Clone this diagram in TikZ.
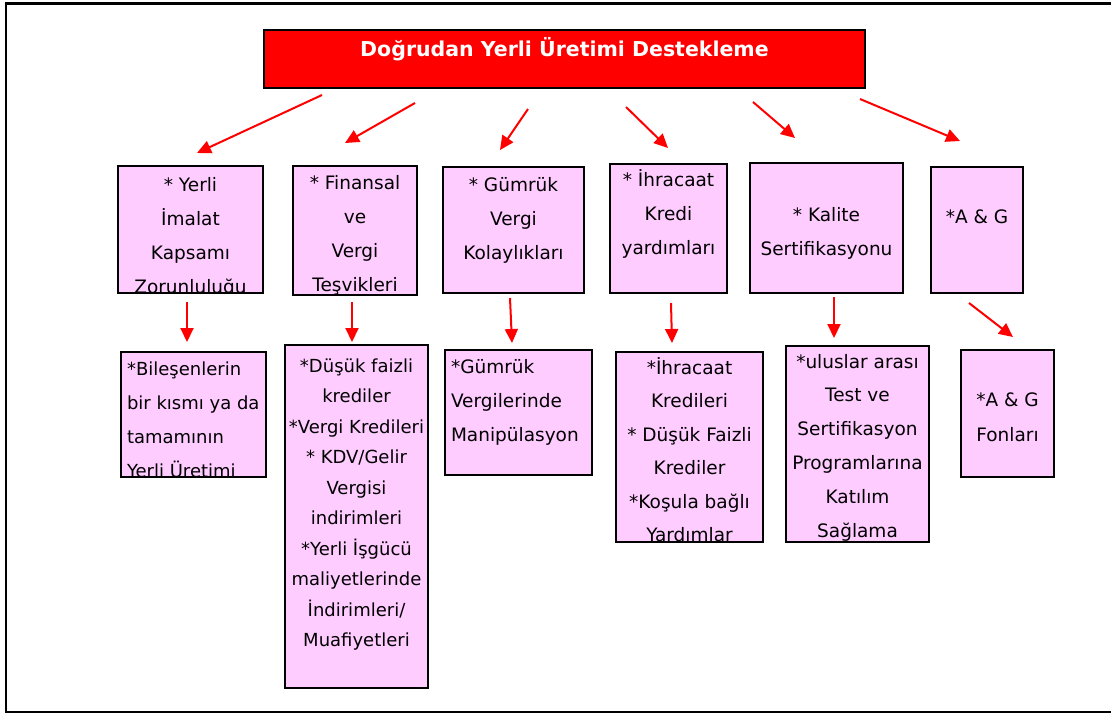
\documentclass[tikz,border=0pt]{standalone}
\usepackage{fontspec}
\setmainfont{DejaVu Sans}
\usetikzlibrary{arrows.meta}

% Changing color 255 0 0 / 255 204 255
\definecolor{r255g0b0}{rgb}{1.000000,0.000000,0.000000}
\definecolor{r255g204b255}{rgb}{1.000000,0.800000,1.000000}
\newcommand{\ilksatir}{\rule{0pt}{17pt}}

\begin{document}
\begin{tikzpicture}[x=1pt,y=-1pt,
  kutu/.style={draw=black, fill=r255g204b255, line width=2pt, inner sep=0pt},
  yazi/.style={draw=none, fill=none, text=black, inner sep=0pt, minimum width=0pt, minimum height=0pt,
    align=center, font=\fontsize{18.5}{34}\selectfont},
  okcizgi/.style={draw=r255g0b0, line width=2pt, -{Triangle[length=14pt,width=13pt]}}]
\useasboundingbox (0,0) rectangle (1111,713);

% Drawing frame
\draw [line width=2.5pt] (1111,3.5) -- (6,3.5) -- (6,712) -- (1111,712);

% Drawing title box
\node [draw=black, fill=r255g0b0, line width=2pt, inner sep=0pt, minimum width=601pt, minimum height=58pt,
  path picture={\node [text=white, minimum width=0pt, minimum height=0pt, font=\bfseries\fontsize{20.5}{24}\selectfont, inner sep=0pt, anchor=base]
    at ([yshift=-26pt]path picture bounding box.north) {Doğrudan Yerli Üretimi Destekleme};}]
  (baslik) at (564.5,59) {};

% Drawing upper boxes
\node [kutu, minimum width=145pt, minimum height=127pt,
  path picture={\node [yazi, anchor=north] at ([yshift=-7pt]path picture bounding box.north)
    {\ilksatir* Yerli\\İmalat\\Kapsamı\\Zorunluluğu};}]
  (imalat) at (190.5,229.5) {};
\node [kutu, minimum width=124pt, minimum height=129pt,
  path picture={\node [yazi, anchor=north] at ([yshift=-5pt]path picture bounding box.north)
    {\ilksatir* Finansal\\ve\\Vergi\\Teşvikleri};}]
  (finansal) at (355,230.5) {};
\node [kutu, minimum width=141pt, minimum height=126pt,
  path picture={\node [yazi, anchor=north] at ([yshift=-6pt]path picture bounding box.north)
    {\ilksatir* Gümrük\\Vergi\\Kolaylıkları};}]
  (gumruk) at (513.5,230) {};
\node [kutu, minimum width=117pt, minimum height=129pt,
  path picture={\node [yazi, anchor=north] at ([yshift=-4pt]path picture bounding box.north)
    {\ilksatir* İhracaat\\Kredi\\yardımları};}]
  (ihracat) at (668.5,228.5) {};
\node [kutu, minimum width=153pt, minimum height=130pt,
  path picture={\node [yazi, anchor=north] at ([yshift=-40pt]path picture bounding box.north)
    {\ilksatir* Kalite\\Sertifikasyonu};}]
  (kalite) at (826.5,228) {};
\node [kutu, minimum width=92pt, minimum height=126pt,
  path picture={\node [yazi, anchor=north] at ([yshift=-38pt]path picture bounding box.north)
    {\ilksatir*A \& G};}]
  (arge) at (977,230) {};

% Drawing lower boxes
\node [kutu, minimum width=145pt, minimum height=125pt,
  path picture={\node [yazi, font=\fontsize{18}{34}\selectfont, align=left, anchor=north west] at ([xshift=5pt,yshift=-5pt]path picture bounding box.north west)
    {\ilksatir*Bileşenlerin\\bir kısmı ya da\\tamamının\\Yerli Üretimi};}]
  (bilesen) at (193.5,414.5) {};
\node [kutu, minimum width=143pt, minimum height=343pt,
  path picture={\node [yazi, font=\fontsize{18}{30.5}\selectfont, anchor=north] at ([yshift=-9pt]path picture bounding box.north)
    {\ilksatir*Düşük faizli\\krediler\\*Vergi Kredileri\\* KDV/Gelir\\Vergisi\\indirimleri\\*Yerli İşgücü\\maliyetlerinde\\İndirimleri/\\Muafiyetleri};}]
  (faiz) at (356.5,516.5) {};
\node [kutu, minimum width=147pt, minimum height=125pt,
  path picture={\node [yazi, align=left, anchor=north west] at ([xshift=5pt,yshift=-5pt]path picture bounding box.north west)
    {\ilksatir*Gümrük\\Vergilerinde\\Manipülasyon};}]
  (manipulasyon) at (518.5,412.5) {};
\node [kutu, minimum width=147pt, minimum height=190pt,
  path picture={\node [yazi, font=\fontsize{18.5}{33.5}\selectfont, anchor=north] at ([yshift=-4pt]path picture bounding box.north)
    {\ilksatir*İhracaat\\Kredileri\\* Düşük Faizli\\Krediler\\*Koşula bağlı\\Yardımlar};}]
  (ihracatkredi) at (689.5,447) {};
\node [kutu, minimum width=143pt, minimum height=196pt,
  path picture={\node [yazi, font=\fontsize{18.5}{33.8}\selectfont, anchor=north] at ([yshift=-4pt]path picture bounding box.north)
    {\ilksatir*uluslar arası\\Test ve\\Sertifikasyon\\Programlarına\\Katılım\\Sağlama};}]
  (test) at (857.5,444) {};
\node [kutu, minimum width=93pt, minimum height=127pt,
  path picture={\node [yazi, font=\fontsize{18.5}{35}\selectfont, anchor=north] at ([yshift=-38pt]path picture bounding box.north)
    {\ilksatir*A \& G\\Fonları};}]
  (argefon) at (1007.5,413.5) {};

% Arrow ends
\coordinate (o1b) at (322,95);  \coordinate (o1s) at (197,153);
\coordinate (o2b) at (415,103); \coordinate (o2s) at (345,143);
\coordinate (o3b) at (528,109); \coordinate (o3s) at (500,150);
\coordinate (o4b) at (626,107); \coordinate (o4s) at (668,148);
\coordinate (o5b) at (753,102); \coordinate (o5s) at (795,138);
\coordinate (o6b) at (860,99);  \coordinate (o6s) at (960,141);
\coordinate (a1b) at (187,302); \coordinate (a1s) at (187,342);
\coordinate (a2b) at (352,302); \coordinate (a2s) at (352,342);
\coordinate (a3b) at (510,298); \coordinate (a3s) at (512,343);
\coordinate (a4b) at (671,303); \coordinate (a4s) at (672,343);
\coordinate (a5b) at (834,297); \coordinate (a5s) at (834,338);
\coordinate (a6b) at (969,303); \coordinate (a6s) at (1013,337);

% Drawing arrows from title
\draw [okcizgi] (o1b) -- (o1s);
\draw [okcizgi] (o2b) -- (o2s);
\draw [okcizgi] (o3b) -- (o3s);
\draw [okcizgi] (o4b) -- (o4s);
\draw [okcizgi] (o5b) -- (o5s);
\draw [okcizgi] (o6b) -- (o6s);

% Drawing arrows down
\draw [okcizgi] (a1b) -- (a1s);
\draw [okcizgi] (a2b) -- (a2s);
\draw [okcizgi] (a3b) -- (a3s);
\draw [okcizgi] (a4b) -- (a4s);
\draw [okcizgi] (a5b) -- (a5s);
\draw [okcizgi] (a6b) -- (a6s);
\end{tikzpicture}
\end{document}
